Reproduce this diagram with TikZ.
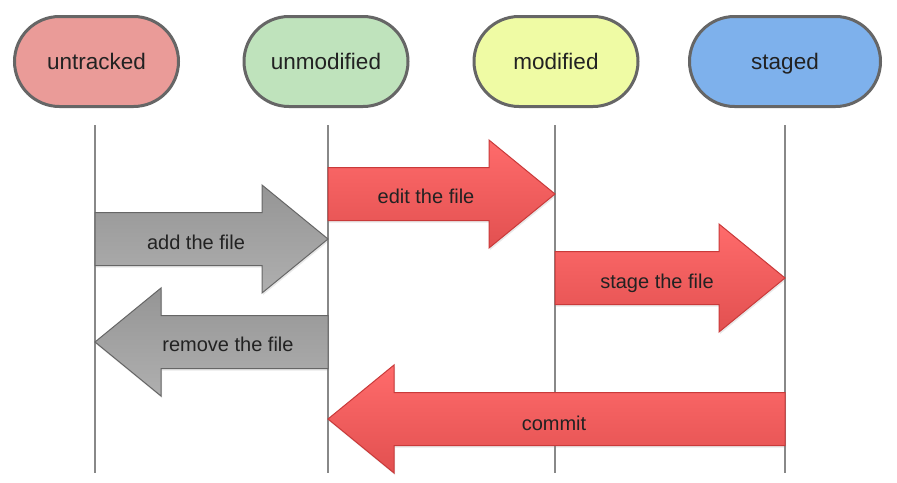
\documentclass[tikz,border=0pt]{standalone}
\usepackage{fontspec}
\setmainfont{Liberation Sans}
\usetikzlibrary{shapes.misc,shadows}
\definecolor{untrackedfill}{HTML}{EA9B98}
\definecolor{unmodifiedfill}{HTML}{BFE3BC}
\definecolor{modifiedfill}{HTML}{EFFBA4}
\definecolor{stagedfill}{HTML}{7EB1EC}
\definecolor{boxborder}{HTML}{666666}
\definecolor{lifeline}{HTML}{888888}
\definecolor{redtop}{HTML}{FF6B6B}
\definecolor{redbottom}{HTML}{E25050}
\definecolor{redborder}{HTML}{C93A3A}
\definecolor{graytop}{HTML}{959595}
\definecolor{graybottom}{HTML}{AFAFAF}
\definecolor{grayborder}{HTML}{666666}
\definecolor{labeltext}{HTML}{222222}
\tikzset{
  statebox/.style={rounded rectangle, draw=boxborder, line width=3pt,
    minimum width=164pt, minimum height=90pt, inner sep=0pt,
    text height=16pt, text depth=0pt,
    font=\fontsize{22.5}{27}\selectfont, text=labeltext},
  lifeline/.style={draw=lifeline, line width=2.8pt},
  redarrow/.style={draw=redborder, line width=1pt, top color=redtop, bottom color=redbottom,
    drop shadow={opacity=0.18, shadow xshift=1pt, shadow yshift=-2pt}},
  grayarrow/.style={draw=grayborder, line width=1pt, top color=graytop, bottom color=graybottom,
    drop shadow={opacity=0.18, shadow xshift=1pt, shadow yshift=-2pt}},
  arrowlabel/.style={font=\fontsize{20}{24}\selectfont, text=labeltext, inner sep=0pt,
    text height=15pt, text depth=0pt}
}
% right-pointing fat arrow: #1 style, #2 start x, #3 tip x, #4 centre y
\newcommand\fatright[4]{%
  \path[#1] (#2,#4-26.5) -- (#3-66,#4-26.5) -- (#3-66,#4-54) -- (#3,#4)
    -- (#3-66,#4+54) -- (#3-66,#4+26.5) -- (#2,#4+26.5) -- cycle;}
% left-pointing fat arrow: #1 style, #2 start x (right end), #3 tip x, #4 centre y
\newcommand\fatleft[4]{%
  \path[#1] (#2,#4-26.5) -- (#3+66,#4-26.5) -- (#3+66,#4-54) -- (#3,#4)
    -- (#3+66,#4+54) -- (#3+66,#4+26.5) -- (#2,#4+26.5) -- cycle;}
\begin{document}
\begin{tikzpicture}[x=1pt,y=-1pt]
\useasboundingbox[fill=white] (0,0) rectangle (897,482);

% states
\node[statebox, fill=untrackedfill] (untracked) at (96.5,61.5) {untracked};
\node[statebox, fill=unmodifiedfill] (unmodified) at (326,61.5) {unmodified};
\node[statebox, fill=modifiedfill] (modified) at (556,61.5) {modified};
\node[statebox, fill=stagedfill, minimum width=191pt] (staged) at (785,61.5) {staged};

% lifelines
\coordinate (ut) at (95,125);   \coordinate (ub) at (95,473);
\coordinate (mt) at (328,125);  \coordinate (mb) at (328,473);
\coordinate (dt) at (555,125);  \coordinate (db) at (555,473);
\coordinate (st) at (785,125);  \coordinate (sb) at (785,473);
\draw[lifeline] (ut) -- (ub);
\draw[lifeline] (mt) -- (mb);
\draw[lifeline] (dt) -- (db);
\draw[lifeline] (st) -- (sb);

% arrows
\fatright{grayarrow}{95}{328}{239}
\node[arrowlabel] (addlbl) at (196,241.5) {add the file};

\fatright{redarrow}{328}{555}{194}
\node[arrowlabel] (editlbl) at (426,195.5) {edit the file};

\fatright{redarrow}{555}{785}{278}
\node[arrowlabel] (stagelbl) at (657,280.5) {stage the file};

\fatleft{grayarrow}{328}{95}{342}
\node[arrowlabel] (removelbl) at (228,343.5) {remove the file};

\fatleft{redarrow}{785}{328}{419}
\node[arrowlabel] (commitlbl) at (554,422.5) {commit};
\end{tikzpicture}
\end{document}
